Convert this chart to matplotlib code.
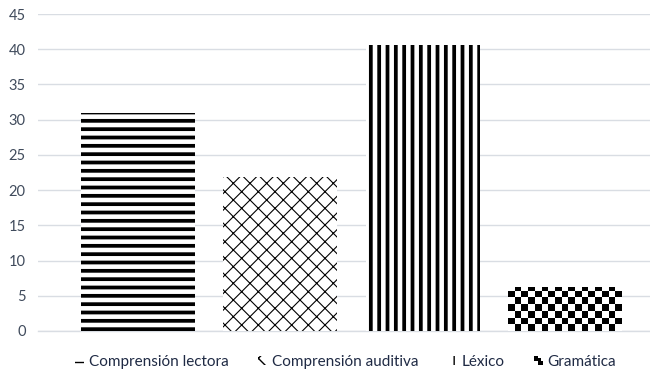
import numpy as np
import matplotlib
matplotlib.use("Agg")
import matplotlib.pyplot as plt
from matplotlib.patches import Rectangle
from matplotlib.legend_handler import HandlerBase

# ── data ───────────────────────────────────────────────────────────────────
categorias = ["Comprensión lectora", "Comprensión auditiva", "Léxico", "Gramática"]
valores = [31.0, 21.8, 40.6, 6.2]
yticks = [0, 5, 10, 15, 20, 25, 30, 35, 40, 45]

plt.rcParams['font.family'] = ['Lato', 'DejaVu Sans']

GRID = "#D9DDE3"
TICK_C = "#404B5C"
LEG_C = "#1F2A44"

# hatch (pattern, hatch linewidth in pt); last one gets a checkerboard fill
estilos = [("--", 2.7), ("xx", 0.8), ("||", 2.7), (None, 0)]

fig = plt.figure(figsize=(6.5, 3.9), dpi=100)
ax = fig.add_axes([38 / 650, 59 / 390, 612 / 650, 317 / 390])

x = np.arange(len(categorias))
width = 0.8
bars = []
for i, (cat, val) in enumerate(zip(categorias, valores)):
    hatch, hlw = estilos[i]
    with plt.rc_context({"hatch.linewidth": hlw if hlw else 1.0}):
        b = ax.bar(x[i], val, width=width, facecolor="white", edgecolor="black",
                   linewidth=0, hatch=hatch, label=cat, zorder=3)[0]
    if hatch and hasattr(b, "set_hatch_linewidth"):
        b.set_hatch_linewidth(hlw)
    bars.append(b)

# checkerboard texture for the last bar, clipped to the bar
b4 = bars[3]
cell_x = width / 17
cell_y = 6.7 / 7.05
ncols, nrows = 17, int(np.ceil(valores[3] / cell_y)) + 1
checker = (np.add.outer(np.arange(nrows), np.arange(ncols)) % 2).astype(float)
x0 = x[3] - width / 2
im = ax.imshow(checker, cmap="gray_r", vmin=0, vmax=1, interpolation="nearest",
               extent=(x0, x0 + ncols * cell_x, 0, nrows * cell_y),
               origin="lower", aspect="auto", zorder=4)
im.set_clip_path(b4)

ax.set_xlim(-0.702, 3.596)
ax.set_ylim(0, 45)
ax.set_yticks(yticks)
ax.set_xticks([])
ax.yaxis.grid(True, color=GRID, linewidth=1.0, zorder=0)
ax.set_axisbelow(True)
for sp in ("top", "right", "left"):
    ax.spines[sp].set_visible(False)
ax.spines["bottom"].set_color(GRID)
ax.spines["bottom"].set_linewidth(1.0)
ax.tick_params(axis="y", length=0, pad=9, labelsize=10.5, labelcolor=TICK_C)


class CheckerHandler(HandlerBase):
    def create_artists(self, legend, orig_handle, xdescent, ydescent,
                       width, height, fontsize, trans):
        arts = []
        w, h = width / 2, height / 2
        for (cx, cy) in [(0, 1), (1, 0)]:
            r = Rectangle((cx * w - xdescent, cy * h - ydescent), w, h,
                          facecolor="black", edgecolor="none", transform=trans)
            arts.append(r)
        r = Rectangle((w - xdescent, h - ydescent), w * 0.6, h * 0.5,
                      facecolor="black", edgecolor="none", transform=trans)
        arts.append(r)
        return arts


handles = bars[:3] + [Rectangle((0, 0), 1, 1)]
leg = fig.legend(handles, categorias, loc="center", bbox_to_anchor=(0.532, 28 / 390),
                 ncol=4, frameon=False, fontsize=11, handlelength=0.55, handleheight=0.6,
                 handletextpad=0.33, columnspacing=1.95,
                 handler_map={handles[3]: CheckerHandler()})
for t in leg.get_texts():
    t.set_color(LEG_C)

fig.savefig("out.png", dpi=100)
